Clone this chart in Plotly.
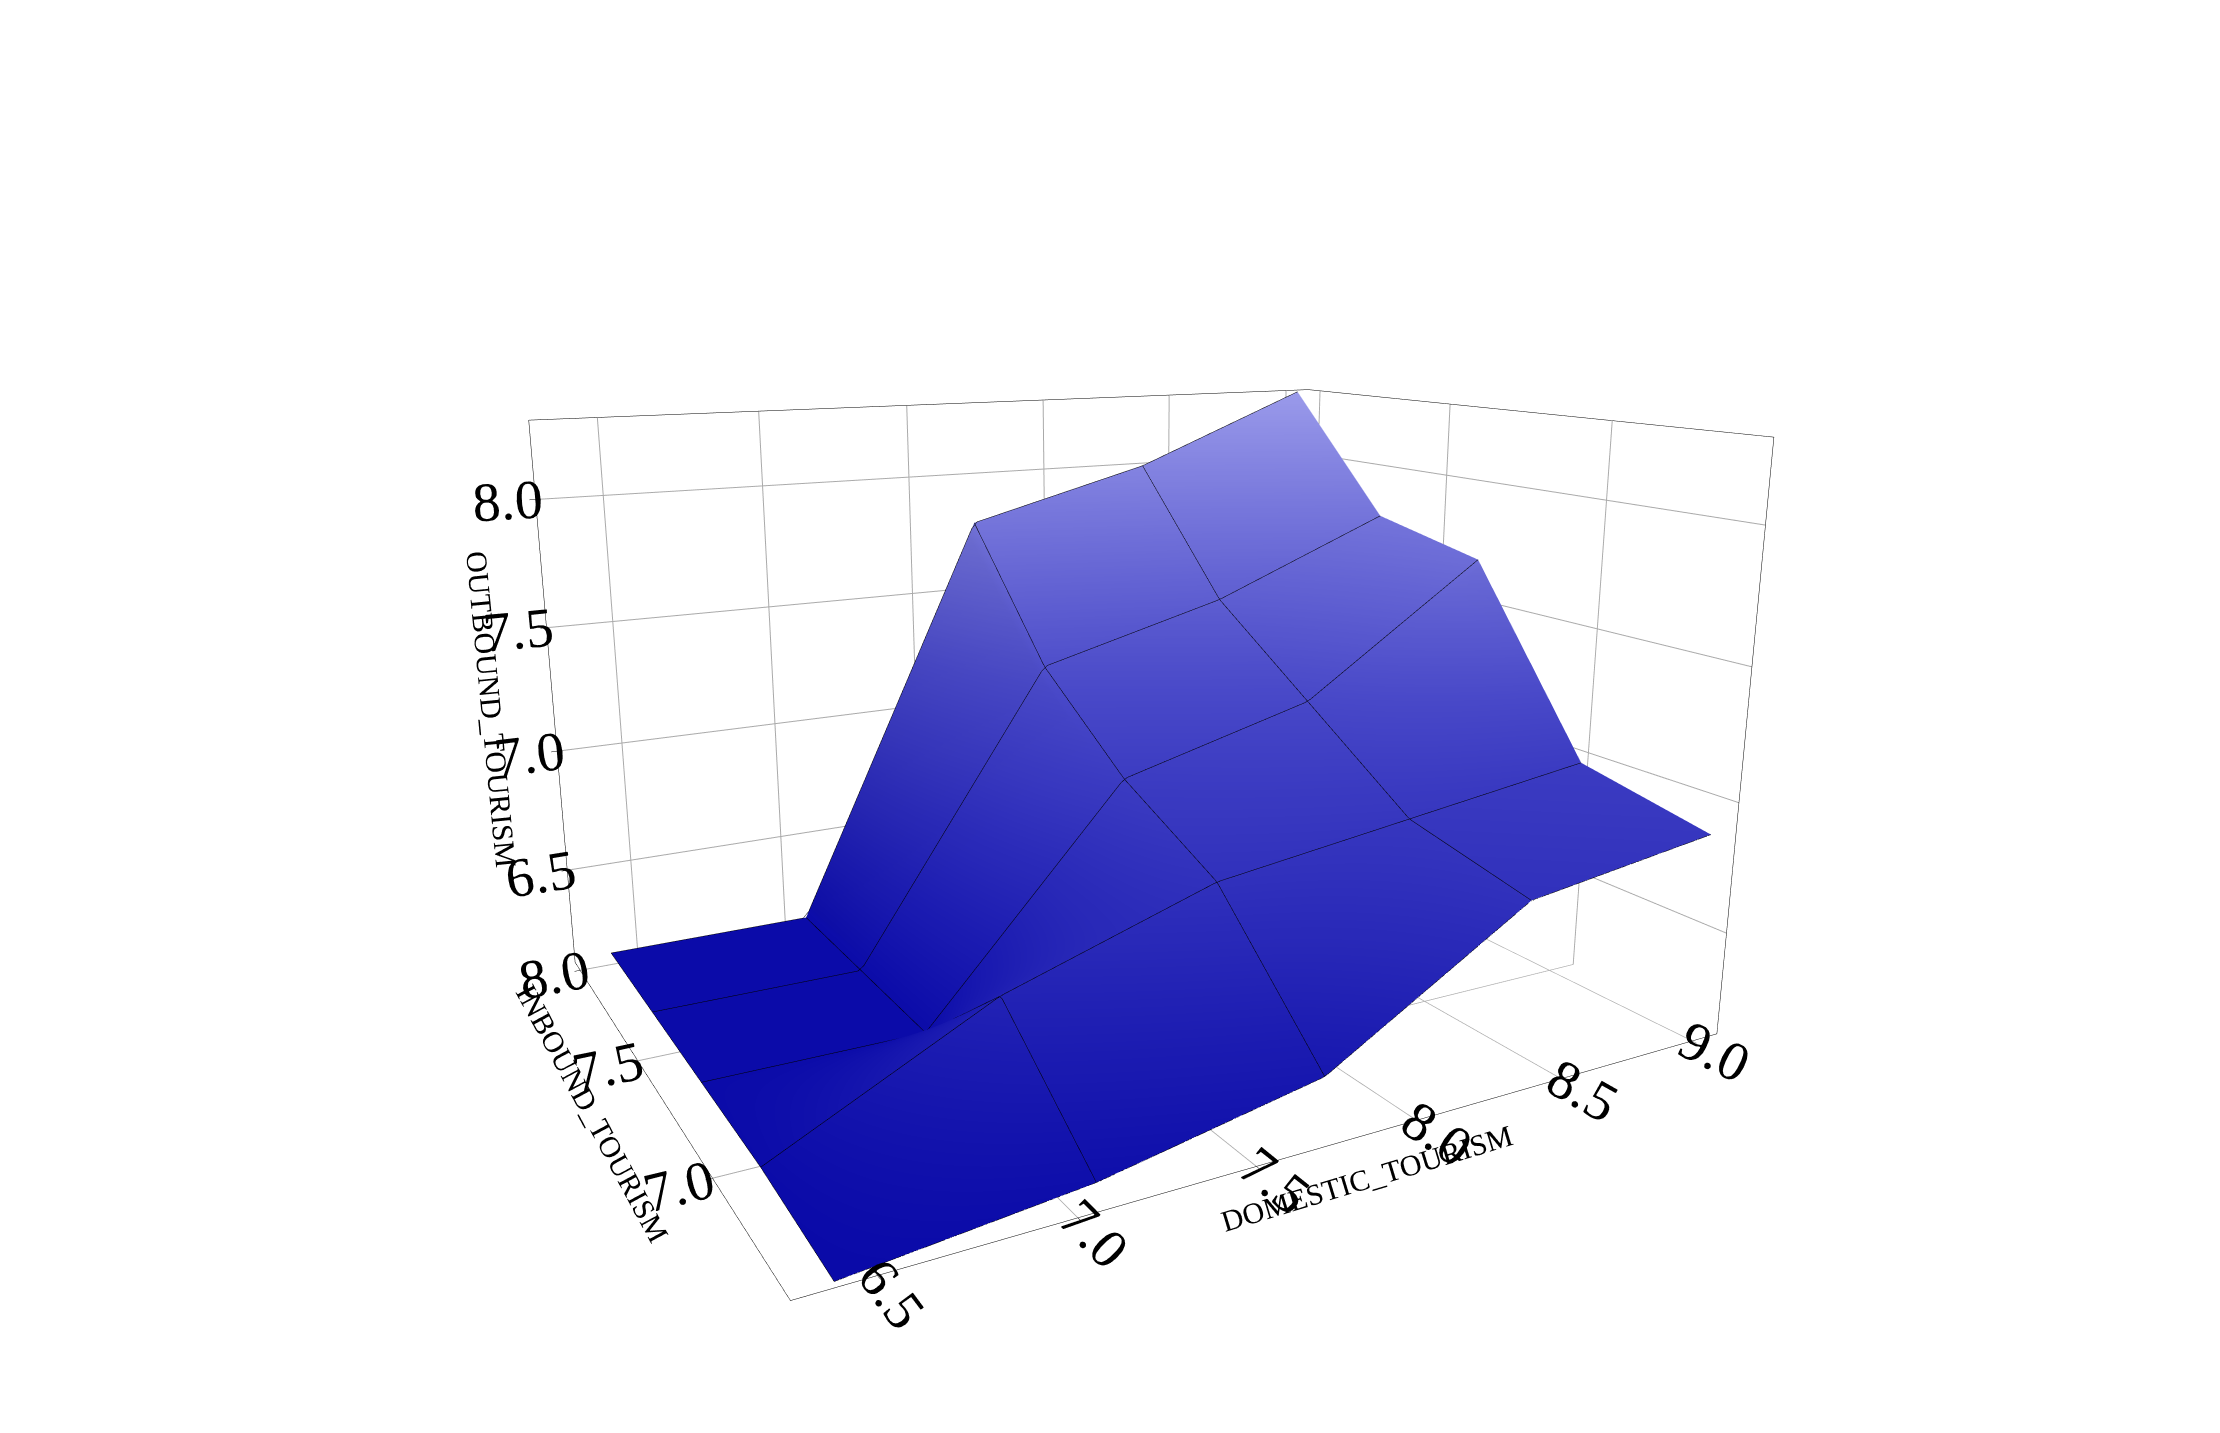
import plotly.graph_objects as go

domestic = [6.4, 7.05, 7.7, 8.35, 9.0]
inbound = [8.0, 7.65, 7.3, 6.95, 6.6]
# rows: domestic index, cols: inbound index
outbound = [
    [6.15, 6.15, 6.15, 6.15, 6.12],
    [6.15, 6.15, 6.15, 6.55, 6.2],
    [7.8, 7.3, 7.0, 6.8, 6.35],
    [8.0, 7.5, 7.2, 6.9, 6.8],
    [8.3, 7.8, 7.7, 7.0, 6.9],
]
z = [[outbound[i][j] for i in range(5)] for j in range(5)]

font = dict(family="Liberation Serif", size=30, color="black")
fig = go.Figure(go.Surface(
    x=domestic, y=inbound, z=z,
    colorscale=[[0, "#0a0aa8"], [0.5, "#4848c8"], [1, "#9a9aea"]],
    showscale=False,
    lighting=dict(ambient=0.9, diffuse=0.2, specular=0.0, roughness=1),
    contours=dict(
        x=dict(show=True, start=6.4, end=9.0, size=0.65, color="black", width=1),
        y=dict(show=True, start=6.6, end=8.0, size=0.35, color="black", width=1),
    ),
))
ax = dict(showbackground=False, gridcolor="#aaaaaa", showline=True, linecolor="black",
          ticks="outside", tickcolor="black", tickformat=".1f",
          tickfont=dict(family="Liberation Serif", size=26, color="black"),
          mirror=True, zeroline=False)
fig.update_layout(
    width=2220, height=1433, paper_bgcolor="white",
    margin=dict(l=0, r=0, t=0, b=0),
    scene=dict(
        xaxis=dict(ax, title=dict(text="DOMESTIC_TOURISM", font=font), range=[6.3, 9.1], dtick=0.5),
        yaxis=dict(ax, title=dict(text="INBOUND_TOURISM", font=font), range=[6.6, 8.05], dtick=0.5),
        zaxis=dict(ax, title=dict(text="OUTBOUND_TOURISM", font=font), range=[6.1, 8.3], dtick=0.5),
        aspectratio=dict(x=1.3, y=1.0, z=0.8),
        camera=dict(eye=dict(x=-1.1, y=-2.0, z=0.6)),
    ),
)
fig.write_html("out.html")
